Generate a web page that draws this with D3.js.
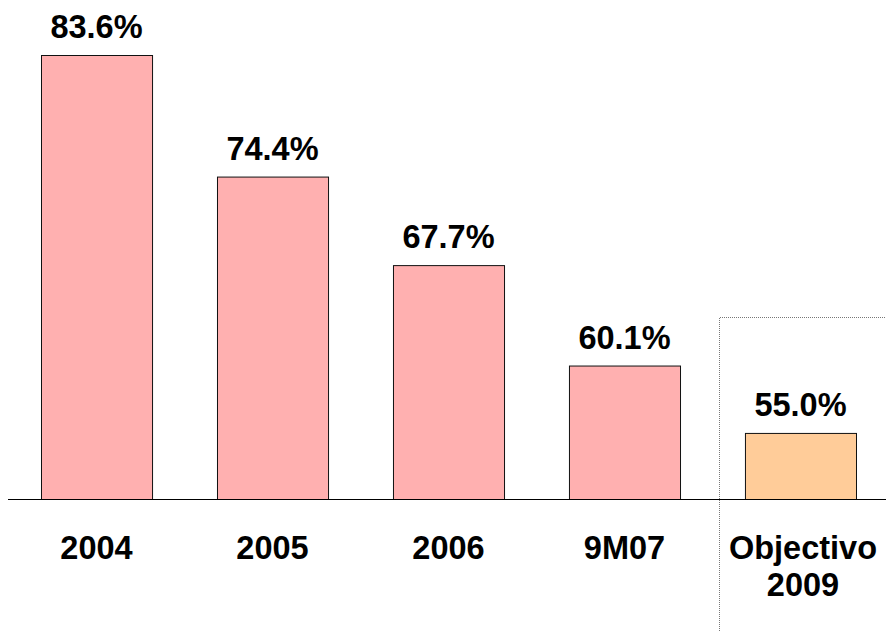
<!DOCTYPE html>
<html>
<head>
<meta charset="utf-8">
<script src="https://cdn.jsdelivr.net/npm/d3@7"></script>
<style>
  html, body { margin: 0; padding: 0; background: #fff; }
  svg { display: block; }
  text { font-family: "Liberation Sans", Arial, sans-serif; font-weight: bold; fill: #000; }
</style>
</head>
<body>
<svg id="chart" width="886" height="631"></svg>
<script>
// Ratio por período
const categories = ["2004", "2005", "2006", "9M07", "Objectivo 2009"];
const values = [83.6, 74.4, 67.7, 60.1, 55.0];
const isTarget = [false, false, false, false, true];

const W = 886, H = 631;
const baseY = 499;
const svg = d3.select("#chart");

const x = d3.scaleBand()
  .domain(categories)
  .range([8, 889])
  .paddingInner(0.369)
  .paddingOuter(0.1875);

const y = d3.scaleLinear()
  .domain([50, 83.6])
  .range([baseY, 55]);

// Bars
svg.append("g").selectAll("rect")
  .data(categories)
  .join("rect")
  .attr("x", d => x(d) + 0.5)
  .attr("y", (d, i) => y(values[i]) + 0.5)
  .attr("width", x.bandwidth())
  .attr("height", (d, i) => baseY - y(values[i]))
  .attr("fill", (d, i) => isTarget[i] ? "#FFCC99" : "#FFB0B0")
  .attr("stroke", "#111")
  .attr("stroke-width", 1);

// Baseline
svg.append("line")
  .attr("x1", 8).attr("x2", W)
  .attr("y1", baseY + 0.5).attr("y2", baseY + 0.5)
  .attr("stroke", "#000").attr("stroke-width", 1.2);

// Dotted frame around the target column
const last = categories[categories.length - 1];
const frameX = Math.round(x(last) - 26) + 0.5;
const frameTop = 317.5;
svg.append("path")
  .attr("d", `M${frameX},${H} V${frameTop} H${W}`)
  .attr("fill", "none")
  .attr("stroke", "#777")
  .attr("stroke-width", 1)
  .attr("stroke-dasharray", "1,1");

// Value labels
svg.append("g").selectAll("text")
  .data(categories)
  .join("text")
  .attr("x", d => x(d) + x.bandwidth() / 2)
  .attr("y", (d, i) => y(values[i]) - 17)
  .attr("text-anchor", "middle")
  .style("font-size", "32.5px")
  .text((d, i) => values[i].toFixed(1) + "%");

// Category labels (wrapped on spaces)
const labelX = (d, i) => x(d) + x.bandwidth() / 2 + (isTarget[i] ? 2.5 : 0);
const cat = svg.append("g").selectAll("text")
  .data(categories)
  .join("text")
  .attr("x", labelX)
  .attr("y", 559)
  .attr("text-anchor", "middle")
  .style("font-size", "32.5px");
cat.each(function(d, i) {
  const t = d3.select(this);
  d.split(" ").forEach((w, k) => {
    t.append("tspan")
      .attr("x", labelX(d, i))
      .attr("dy", k === 0 ? 0 : 37)
      .text(w);
  });
});
</script>
</body>
</html>
